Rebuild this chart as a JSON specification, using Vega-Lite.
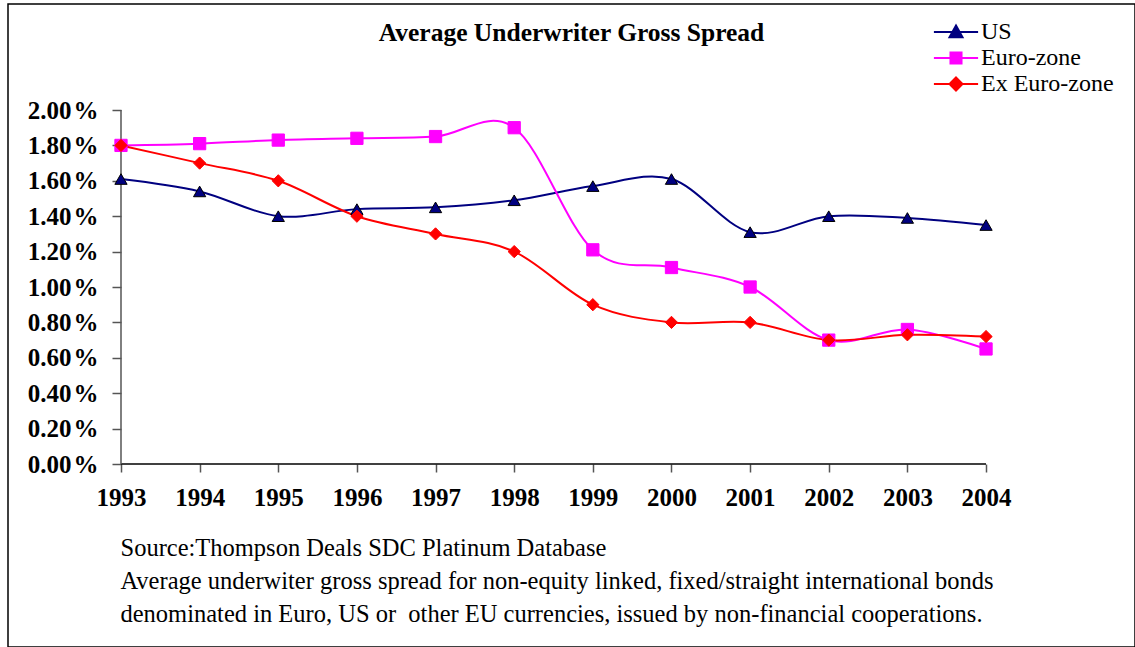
{
  "$schema": "https://vega.github.io/schema/vega-lite/v6.json",
  "width": 1127,
  "height": 643,
  "autosize": {"type": "none"},
  "padding": {"left": 8, "top": 4, "right": 0, "bottom": 0},
  "background": "white",
  "title": {
    "text": "Average Underwriter Gross Spread",
    "font": "Liberation Serif",
    "fontSize": 25.5,
    "fontWeight": "bold",
    "color": "black",
    "anchor": "middle",
    "frame": "group",
    "orient": "top",
    "baseline": "middle",
    "offset": -30,
    "dy": 24
  },
  "datasets": {
    "spread": [
      {"year": 1993, "series": "US", "value": 0.0161},
      {"year": 1994, "series": "US", "value": 0.0154},
      {"year": 1995, "series": "US", "value": 0.0140},
      {"year": 1996, "series": "US", "value": 0.0144},
      {"year": 1997, "series": "US", "value": 0.0145},
      {"year": 1998, "series": "US", "value": 0.0149},
      {"year": 1999, "series": "US", "value": 0.0157},
      {"year": 2000, "series": "US", "value": 0.0161},
      {"year": 2001, "series": "US", "value": 0.0131},
      {"year": 2002, "series": "US", "value": 0.0140},
      {"year": 2003, "series": "US", "value": 0.0139},
      {"year": 2004, "series": "US", "value": 0.0135},
      {"year": 1993, "series": "Euro-zone", "value": 0.0180},
      {"year": 1994, "series": "Euro-zone", "value": 0.0181},
      {"year": 1995, "series": "Euro-zone", "value": 0.0183},
      {"year": 1996, "series": "Euro-zone", "value": 0.0184},
      {"year": 1997, "series": "Euro-zone", "value": 0.0185},
      {"year": 1998, "series": "Euro-zone", "value": 0.0190},
      {"year": 1999, "series": "Euro-zone", "value": 0.0121},
      {"year": 2000, "series": "Euro-zone", "value": 0.0111},
      {"year": 2001, "series": "Euro-zone", "value": 0.0100},
      {"year": 2002, "series": "Euro-zone", "value": 0.0070},
      {"year": 2003, "series": "Euro-zone", "value": 0.0076},
      {"year": 2004, "series": "Euro-zone", "value": 0.0065},
      {"year": 1993, "series": "Ex Euro-zone", "value": 0.0180},
      {"year": 1994, "series": "Ex Euro-zone", "value": 0.0170},
      {"year": 1995, "series": "Ex Euro-zone", "value": 0.0160},
      {"year": 1996, "series": "Ex Euro-zone", "value": 0.0140},
      {"year": 1997, "series": "Ex Euro-zone", "value": 0.0130},
      {"year": 1998, "series": "Ex Euro-zone", "value": 0.0120},
      {"year": 1999, "series": "Ex Euro-zone", "value": 0.0090},
      {"year": 2000, "series": "Ex Euro-zone", "value": 0.0080},
      {"year": 2001, "series": "Ex Euro-zone", "value": 0.0080},
      {"year": 2002, "series": "Ex Euro-zone", "value": 0.0070},
      {"year": 2003, "series": "Ex Euro-zone", "value": 0.0073},
      {"year": 2004, "series": "Ex Euro-zone", "value": 0.0072}
    ],
    "axes": [
      {"x0": 1993, "x1": 2004, "y0": 0, "y1": 0.02}
    ]
  },
  "layer": [
    {
      "data": {"name": "spread"},
      "mark": {"type": "line", "interpolate": "cardinal", "strokeWidth": 2},
      "encoding": {
        "x": {
          "field": "year", "type": "quantitative",
          "scale": {"domain": [1991.5631, 2005.8942], "nice": false, "zero": false},
          "axis": {
            "values": [1993, 1994, 1995, 1996, 1997, 1998, 1999, 2000, 2001, 2002, 2003, 2004],
            "format": "d",
            "offset": -183,
            "domain": false,
            "grid": false,
            "tickSize": 8,
            "tickColor": "#555555",
            "tickWidth": 1.5,
            "labelFont": "Liberation Serif",
            "labelFontSize": 25,
            "labelFontWeight": "bold",
            "labelColor": "black",
            "labelPadding": 13,
            "labelOverlap": false,
            "title": [
              "Source:Thompson Deals SDC Platinum Database",
              "Average underwiter gross spread for non-equity linked, fixed/straight international bonds",
              "denominated in Euro, US or\u00a0 other EU currencies, issued by non-financial cooperations."
            ],
            "titleFont": "Liberation Serif",
            "titleFontSize": 24.5,
            "titleFontWeight": "normal",
            "titleColor": "black",
            "titleAlign": "left",
            "titleAnchor": "start",
            "titleBaseline": "alphabetic",
            "titleLineHeight": 33,
            "titleX": 112,
            "titleY": 91,
            "titleLimit": 1100
          }
        },
        "y": {
          "field": "value", "type": "quantitative",
          "scale": {"domain": [-0.010339, 0.025989], "nice": false, "zero": false},
          "axis": {
            "values": [0, 0.002, 0.004, 0.006, 0.008, 0.01, 0.012, 0.014, 0.016, 0.018, 0.02],
            "format": ".2%",
            "labelExpr": "replace(datum.label, '%', '\u200a%')",
            "offset": -113,
            "domain": false,
            "grid": false,
            "tickSize": 9,
            "tickColor": "#555555",
            "tickWidth": 1.5,
            "labelFont": "Liberation Serif",
            "labelFontSize": 25,
            "labelFontWeight": "bold",
            "labelColor": "black",
            "labelPadding": 14,
            "labelOverlap": false,
            "title": null
          }
        },
        "color": {
          "field": "series", "type": "nominal",
          "scale": {"domain": ["US", "Euro-zone", "Ex Euro-zone"], "range": ["#000080", "#FF00FF", "#FF0000"]},
          "legend": {
            "orient": "none",
            "legendX": 936,
            "legendY": 16,
            "title": null,
            "padding": 0,
            "labelFont": "Liberation Serif",
            "labelFontSize": 24,
            "labelColor": "black",
            "labelOffset": 13,
            "labelLimit": 300,
            "rowPadding": 2,
            "symbolSize": 169,
            "symbolStrokeWidth": 2,
            "symbolOpacity": 1,
            "encode": {
              "symbols": {
                "update": {
                  "shape": {"signal": "datum.value === 'US' ? 'M-3.4,0H3.4M0,-1L1,0.8L-1,0.8Z' : (datum.value === 'Euro-zone' ? 'M-3.4,0H3.4M-0.85,-0.85H0.85V0.85H-0.85Z' : 'M-3.4,0H3.4M0,-1L1,0L0,1L-1,0Z')"},
                  "fill": {"signal": "scale('color', datum.value)"},
                  "stroke": {"signal": "scale('color', datum.value)"},
                  "strokeWidth": {"value": 2},
                  "opacity": {"value": 1}
                }
              }
            }
          }
        }
      }
    },
    {
      "data": {"name": "axes"},
      "mark": {"type": "rule", "color": "#000000", "strokeWidth": 1.5},
      "encoding": {
        "x": {"datum": 1993, "type": "quantitative"},
        "x2": {"datum": 2004},
        "y": {"datum": 0, "type": "quantitative"}
      }
    },
    {
      "data": {"name": "axes"},
      "mark": {"type": "rule", "color": "#555555", "strokeWidth": 1.5},
      "encoding": {
        "x": {"datum": 1993, "type": "quantitative"},
        "y": {"datum": 0, "type": "quantitative"},
        "y2": {"datum": 0.02}
      }
    },
    {
      "data": {"name": "spread"},
      "mark": {"type": "point", "filled": true, "size": 150, "opacity": 1, "strokeWidth": 1},
      "encoding": {
        "x": {"field": "year", "type": "quantitative"},
        "y": {"field": "value", "type": "quantitative"},
        "color": {"field": "series", "type": "nominal"},
        "shape": {
          "condition": [
            {"test": "datum.series === 'US'", "value": "triangle-up"},
            {"test": "datum.series === 'Euro-zone'", "value": "square"}
          ],
          "value": "diamond"
        },
        "stroke": {
          "condition": [
            {"test": "datum.series === 'US'", "value": "#000000"},
            {"test": "datum.series === 'Euro-zone'", "value": "#FF00FF"}
          ],
          "value": "#FF0000"
        }
      }
    }
  ],
  "config": {
    "view": {"stroke": "black", "strokeWidth": 1.5}
  }
}
